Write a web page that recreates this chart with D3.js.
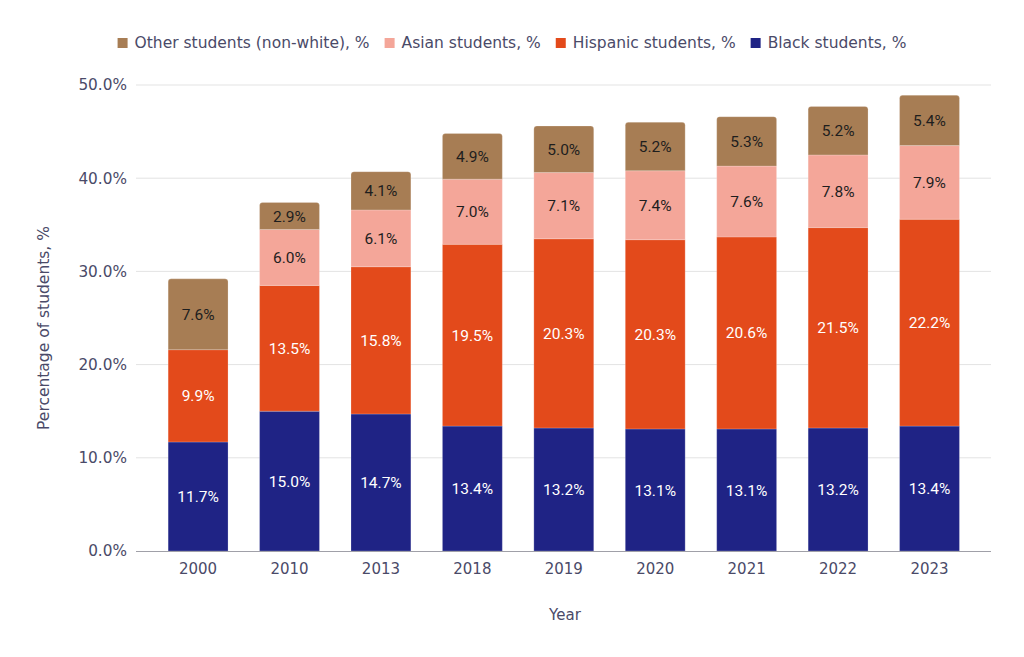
<!DOCTYPE html>
<html>
<head>
<meta charset="utf-8">
<script src="https://cdn.jsdelivr.net/npm/d3@7"></script>
<style>
  body { margin: 0; background: #fff; }
  svg { display: block; }
</style>
</head>
<body>
<div id="chart"></div>
<script>
// data
const years = ["2000", "2010", "2013", "2018", "2019", "2020", "2021", "2022", "2023"];
const black = [11.7, 15.0, 14.7, 13.4, 13.2, 13.1, 13.1, 13.2, 13.4];
const hispanic = [9.9, 13.5, 15.8, 19.5, 20.3, 20.3, 20.6, 21.5, 22.2];
const asian = [0, 6.0, 6.1, 7.0, 7.1, 7.4, 7.6, 7.8, 7.9];
const other = [7.6, 2.9, 4.1, 4.9, 5.0, 5.2, 5.3, 5.2, 5.4];
const yTicks = [0, 10, 20, 30, 40, 50];

const seriesNames = ["Black students, %", "Hispanic students, %", "Asian students, %", "Other students (non-white), %"];
const seriesValues = [black, hispanic, asian, other];
const colors = ["#1f2385", "#e34a1b", "#f4a699", "#a77d54"];
const labelColors = ["#ffffff", "#ffffff", "#1e1e1e", "#1e1e1e"];

const width = 1024, height = 657;
const axisColor = "#4a4a68";
const axisFont = "'DejaVu Sans', Verdana, sans-serif";

const svg = d3.select("#chart").append("svg")
  .attr("width", width)
  .attr("height", height);

const plotLeft = 136, plotRight = 991;

const x = d3.scaleBand()
  .domain(years)
  .range([152.6, 975])
  .paddingInner(0.345)
  .paddingOuter(0.17);

const y = d3.scaleLinear()
  .domain([0, 50])
  .range([551, 85]);

// gridlines
svg.append("g")
  .selectAll("line")
  .data(yTicks.filter(d => d > 0))
  .enter()
  .append("line")
    .attr("x1", plotLeft)
    .attr("x2", plotRight)
    .attr("y1", d => y(d))
    .attr("y2", d => y(d))
    .style("stroke", "#e3e3e3")
    .style("stroke-width", 1);

// y axis labels
const yAxis = d3.axisLeft(y)
  .tickValues(yTicks)
  .tickSize(0)
  .tickPadding(9)
  .tickFormat(d => d.toFixed(1) + "%");

svg.append("g")
  .attr("transform", "translate(" + plotLeft + ",0)")
  .call(yAxis)
  .call(g => g.select(".domain").remove())
  .selectAll("text")
    .style("font-family", axisFont)
    .style("font-size", "15.3px")
    .style("fill", axisColor);

// stack the series
const rows = years.map((yr, i) => {
  const r = { year: yr };
  seriesNames.forEach((n, k) => { r[n] = seriesValues[k][i]; });
  return r;
});
const stacked = d3.stack().keys(seriesNames)(rows);

function roundTop(x0, y0, w, h, r) {
  r = Math.min(r, h);
  return "M" + x0 + "," + (y0 + h) +
    "V" + (y0 + r) +
    "Q" + x0 + "," + y0 + " " + (x0 + r) + "," + y0 +
    "H" + (x0 + w - r) +
    "Q" + (x0 + w) + "," + y0 + " " + (x0 + w) + "," + (y0 + r) +
    "V" + (y0 + h) + "Z";
}

const layers = svg.append("g")
  .selectAll("g")
  .data(stacked)
  .enter()
  .append("g")
    .style("fill", (d, i) => colors[i]);

layers.selectAll("path")
  .data((d, i) => d.map(p => ({ p: p, k: i })))
  .enter()
  .append("path")
    .filter(d => d.p[1] - d.p[0] > 0)
    .attr("d", d => {
      const top = d.k === 3;
      const x0 = x(d.p.data.year), w = x.bandwidth();
      const y0 = y(d.p[1]), h = y(d.p[0]) - y(d.p[1]);
      return roundTop(x0, y0, w, h, top ? 3 : 0);
    })
    .style("stroke", "#ffffff")
    .style("stroke-opacity", 0.35)
    .style("stroke-width", 0.6);

// value labels
layers.selectAll("text")
  .data((d, i) => d.map(p => ({ p: p, k: i })).filter(d => d.p[1] - d.p[0] > 0))
  .enter()
  .append("text")
    .attr("x", d => x(d.p.data.year) + x.bandwidth() / 2)
    .attr("y", d => (y(d.p[0]) + y(d.p[1])) / 2)
    .attr("dy", "0.36em")
    .attr("text-anchor", "middle")
    .style("font-family", "Roboto, sans-serif")
    .style("font-size", "15.5px")
    .style("fill", d => labelColors[d.k])
    .text(d => (d.p[1] - d.p[0]).toFixed(1) + "%");

// x axis
const xAxis = d3.axisBottom(x).tickSize(0).tickPadding(12);
svg.append("g")
  .attr("transform", "translate(0," + y(0) + ")")
  .call(xAxis)
  .call(g => g.select(".domain").remove())
  .selectAll("text")
    .style("font-family", axisFont)
    .style("font-size", "15px")
    .style("fill", axisColor);

svg.append("line")
  .attr("x1", plotLeft)
  .attr("x2", plotRight)
  .attr("y1", y(0) + 0.5)
  .attr("y2", y(0) + 0.5)
  .style("stroke", "#a0a0a8")
  .style("stroke-width", 1);

// axis titles
svg.append("text")
  .attr("x", 565)
  .attr("y", 620)
  .attr("text-anchor", "middle")
  .style("font-family", axisFont)
  .style("font-size", "15px")
  .style("fill", axisColor)
  .text("Year");

svg.append("text")
  .attr("transform", "translate(49,328) rotate(-90)")
  .attr("text-anchor", "middle")
  .style("font-family", axisFont)
  .style("font-size", "15.5px")
  .style("fill", axisColor)
  .text("Percentage of students, %");

// legend, reverse order like the reference
const legendOrder = [3, 2, 1, 0];
const legend = svg.append("g");
let lx = 0;
legendOrder.forEach(k => {
  const item = legend.append("g").attr("transform", "translate(" + lx + ",0)");
  item.append("rect")
    .attr("x", 0).attr("y", -5)
    .attr("width", 10).attr("height", 10)
    .style("fill", colors[k]);
  const t = item.append("text")
    .attr("x", 17).attr("y", 0).attr("dy", "0.35em")
    .style("font-family", axisFont)
    .style("font-size", "15.5px")
    .style("fill", axisColor)
    .text(seriesNames[k]);
  lx += 17 + t.node().getComputedTextLength() + 15;
});
const legendWidth = lx - 15;
legend.attr("transform", "translate(" + (512 - legendWidth / 2) + ",43)");
</script>
</body>
</html>
